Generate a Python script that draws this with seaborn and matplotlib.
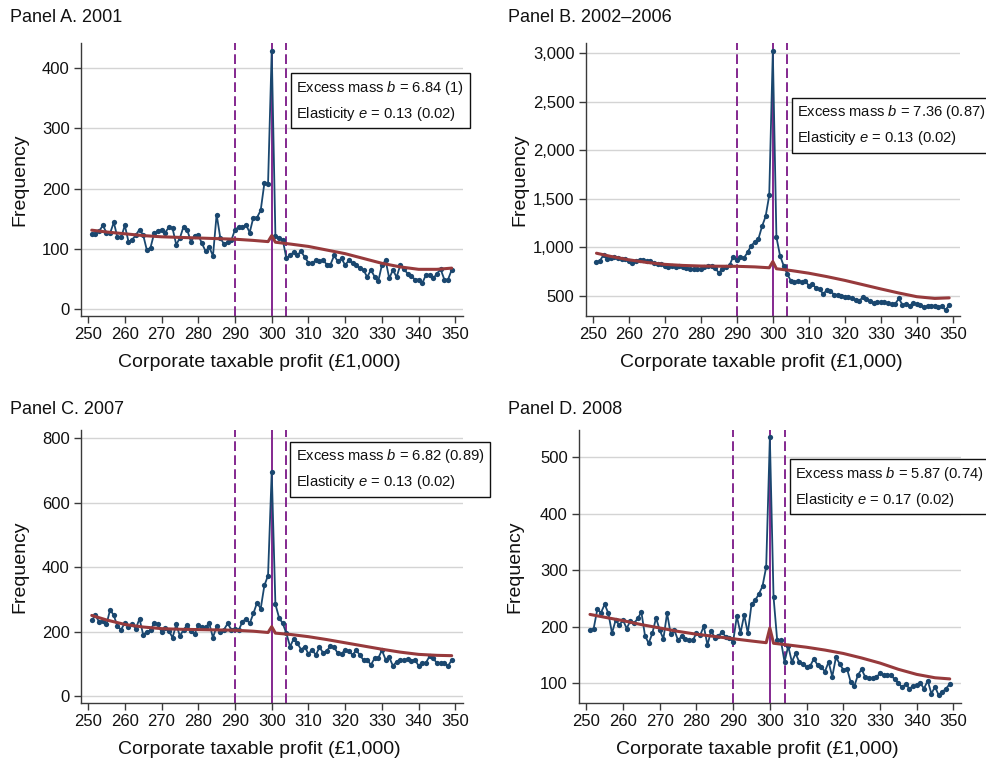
import matplotlib
matplotlib.use("Agg")
import matplotlib.pyplot as plt
import seaborn as sns
import pandas as pd
from matplotlib.ticker import FuncFormatter

# Profit bins (in £1,000)
bins = list(range(251, 350))

# Observed frequency per bin
freq_2001 = [125, 125, 129, 139, 127, 126, 144, 119, 119, 139,
             112, 115, 123, 132, 123, 98, 102, 126, 129, 132,
             127, 136, 134, 107, 118, 137, 131, 112, 122, 123,
             109, 96, 103, 88, 157, 118, 108, 111, 114, 132,
             136, 136, 140, 127, 152, 152, 164, 209, 208, 429,
             122, 118, 115, 84, 90, 94, 90, 96, 86, 77,
             76, 81, 80, 81, 74, 74, 89, 79, 84, 73,
             81, 76, 73, 68, 65, 53, 65, 54, 46, 73,
             81, 51, 65, 53, 73, 66, 59, 55, 49, 49,
             43, 57, 57, 51, 59, 66, 49, 49, 65]
freq_2002_06 = [845, 862, 924, 879, 890, 903, 890, 879, 879, 855,
                834, 862, 869, 869, 855, 862, 834, 828, 828, 810,
                800, 810, 800, 810, 793, 786, 776, 776, 776, 776,
                793, 810, 810, 786, 734, 776, 793, 817, 903, 869,
                896, 890, 948, 1017, 1052, 1086, 1214, 1317, 1534, 3020,
                1103, 914, 810, 724, 655, 638, 655, 638, 655, 603,
                621, 579, 569, 517, 559, 552, 510, 510, 500, 490,
                483, 472, 455, 448, 483, 466, 441, 421, 431, 431,
                431, 421, 414, 414, 472, 407, 414, 397, 421, 414,
                407, 379, 397, 397, 397, 386, 390, 352, 407]
freq_2007 = [235, 250, 230, 232, 222, 268, 250, 216, 206, 227,
             214, 222, 209, 240, 190, 199, 204, 227, 222, 199,
             211, 202, 181, 222, 186, 206, 220, 201, 192, 220,
             214, 214, 225, 181, 216, 199, 206, 225, 206, 209,
             204, 230, 240, 225, 256, 289, 271, 343, 374, 697,
             285, 243, 225, 194, 153, 178, 163, 144, 153, 130,
             144, 127, 151, 134, 140, 155, 151, 132, 130, 144,
             140, 127, 142, 127, 111, 113, 96, 117, 117, 142,
             113, 120, 93, 106, 113, 111, 115, 109, 113, 93,
             103, 103, 124, 117, 101, 103, 101, 93, 111]
freq_2008 = [194, 197, 231, 225, 240, 224, 189, 212, 203, 212,
             197, 211, 206, 215, 226, 184, 171, 189, 216, 194,
             179, 224, 187, 194, 176, 184, 178, 176, 176, 189,
             185, 201, 168, 193, 181, 184, 191, 182, 181, 174,
             219, 189, 221, 189, 240, 247, 258, 272, 306, 535,
             253, 176, 176, 138, 166, 138, 153, 138, 135, 129,
             131, 144, 132, 129, 121, 138, 112, 146, 135, 124,
             126, 103, 95, 115, 125, 111, 109, 109, 111, 118,
             115, 115, 115, 107, 101, 93, 99, 91, 95, 97,
             100, 91, 105, 82, 94, 79, 85, 91, 99]

# Counterfactual density (fitted polynomial), sampled bins
cf_bins = [251, 255, 260, 265, 270, 275, 280, 285, 290, 295, 299, 300, 301,
           305, 310, 315, 320, 325, 330, 335, 340, 345, 349]
cf_2001 = [131, 128, 125, 122, 120, 119, 118, 117, 116, 114, 112, 122, 111,
           108, 104, 98, 92, 84, 76, 70, 66, 66, 68]
cf_2002_06 = [938, 905, 870, 843, 823, 812, 806, 804, 803, 797, 788, 852, 778,
              760, 732, 697, 658, 614, 570, 528, 490, 472, 478]
cf_2007 = [250, 236, 222, 214, 209, 207, 206, 205, 204, 201, 197, 215, 195,
           191, 184, 175, 165, 155, 145, 136, 129, 126, 125]
cf_2008 = [222, 217, 211, 204, 198, 192, 187, 183, 179, 175, 172, 198, 171,
           168, 164, 159, 153, 145, 136, 125, 116, 110, 108]

# Kink point and excluded region bounds
threshold = 300
lower_bound = 290
upper_bound = 304

titles = ["Panel A. 2001", "Panel B. 2002\u20132006", "Panel C. 2007", "Panel D. 2008"]
excess_mass = ["6.84 (1)", "7.36 (0.87)", "6.82 (0.89)", "5.87 (0.74)"]
elasticity = ["0.13 (0.02)", "0.13 (0.02)", "0.13 (0.02)", "0.17 (0.02)"]
y_ticks = [[0, 100, 200, 300, 400],
           [500, 1000, 1500, 2000, 2500, 3000],
           [0, 200, 400, 600, 800],
           [100, 200, 300, 400, 500]]
y_limits = [(-11, 442), (294, 3106), (-21, 826), (66, 548)]
x_ticks = list(range(250, 351, 10))

observed = [freq_2001, freq_2002_06, freq_2007, freq_2008]
counterfactual = [cf_2001, cf_2002_06, cf_2007, cf_2008]

sns.set_theme(style="white")
plt.rcParams["font.family"] = ["Liberation Sans", "DejaVu Sans"]
plt.rcParams["mathtext.fontset"] = "custom"
plt.rcParams["mathtext.rm"] = "Liberation Sans"
plt.rcParams["mathtext.it"] = "Liberation Sans:italic"

BLUE = "#1a476f"
RED = "#973a3c"
PURPLE = "#84288f"
GRID = "#d4d4d4"
AXIS = "#3a3a3a"
INK = "#111111"

fig = plt.figure(figsize=(9.87, 7.58), dpi=100)

rects = [
    [0.0818, 0.5835, 0.387, 0.360],
    [0.5934, 0.5835, 0.3792, 0.360],
    [0.0818, 0.0730, 0.387, 0.3597],
    [0.5866, 0.0730, 0.3868, 0.3597],
]
title_pos = [(10, 18), (508, 18), (10, 410), (508, 410)]
ylabel_x = [-0.159, -0.176, -0.159, -0.168]
box_pos = [(0.564, 0.868), (0.565, 0.779), (0.5625, 0.937), (0.567, 0.872)]

for i in range(4):
    ax = fig.add_axes(rects[i])
    df = pd.DataFrame({"bin": bins, "freq": observed[i]})
    cf = pd.DataFrame({"bin": cf_bins, "freq": counterfactual[i]})

    for xv, ls in [(lower_bound, (0, (5, 2.2))), (threshold, "-"), (upper_bound, (0, (5, 2.2)))]:
        ax.axvline(xv, color=PURPLE, lw=1.4, ls=ls, zorder=1.5)

    sns.lineplot(data=df, x="bin", y="freq", ax=ax, color=BLUE, lw=1.3,
                 marker="o", markersize=3.8, markeredgewidth=0, zorder=2)
    sns.lineplot(data=cf, x="bin", y="freq", ax=ax, color=RED, lw=2.2, zorder=3)

    ax.set_xlim(248, 352)
    ax.set_ylim(*y_limits[i])
    ax.set_xticks(x_ticks)
    ax.set_yticks(y_ticks[i])
    if i == 1:
        ax.yaxis.set_major_formatter(FuncFormatter(lambda v, p: f"{int(v):,}"))
    ax.grid(axis="y", color=GRID, lw=1.0, zorder=0)
    ax.set_axisbelow(True)
    for side in ["top", "right"]:
        ax.spines[side].set_visible(False)
    for side in ["left", "bottom"]:
        ax.spines[side].set_color(AXIS)
        ax.spines[side].set_linewidth(1.0)
    ax.tick_params(axis="both", which="major", bottom=True, left=True, direction="out",
                   length=5, width=1.0, color=AXIS, labelsize=12, labelcolor=INK, pad=3)

    ax.set_xlabel("Corporate taxable profit (\u00a31,000)", fontsize=14, color=INK)
    ax.set_ylabel("Frequency", fontsize=14, color=INK)
    ax.xaxis.label.set_verticalalignment("center")
    ax.yaxis.label.set_verticalalignment("center")
    ax.xaxis.set_label_coords(0.468, -0.17)
    ax.yaxis.set_label_coords(ylabel_x[i], 0.5)

    label = (f"Excess mass $b$ = {excess_mass[i]}\n"
             f"Elasticity $e$ = {elasticity[i]}")
    ax.text(box_pos[i][0], box_pos[i][1], label, transform=ax.transAxes,
            ha="left", va="top", fontsize=10.6, color=INK, linespacing=1.6,
            bbox=dict(boxstyle="square,pad=0.38", fc="white", ec=INK, lw=1.0),
            clip_on=False, zorder=5)

    fig.text(title_pos[i][0] / 987, 1 - title_pos[i][1] / 758, titles[i],
             fontsize=13, ha="left", va="center", color=INK)

fig.savefig("out.png", dpi=100)
